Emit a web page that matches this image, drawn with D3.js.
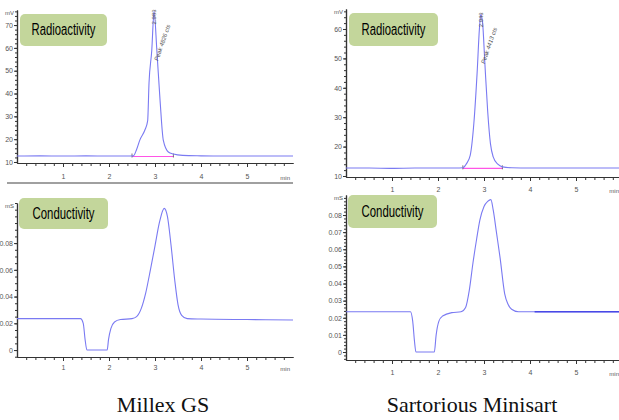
<!DOCTYPE html>
<html>
<head>
<meta charset="utf-8">
<script src="https://cdn.jsdelivr.net/npm/d3@7"></script>
<style>
body { margin: 0; background: #fff; }
svg { display: block; }
.axis path, .axis line { stroke: #333; }
.axis text { font-family: "Liberation Sans Narrow", "Liberation Sans", sans-serif; font-size: 7px; fill: #555; }
</style>
</head>
<body>
<div id="chart"></div>
<script>
// retention time (min) / signal
var radioTimeA = [0, 0.5, 1, 1.5, 2, 2.4, 2.53, 2.6, 2.67, 2.78, 2.84, 2.87, 2.93, 2.98, 3.04, 3.11, 3.18, 3.29, 3.4, 3.6, 4, 4.5, 5, 5.5, 6];
var radioValA  = [12.6, 12.7, 12.6, 12.7, 12.6, 12.6, 12.7, 15.5, 19.6, 24, 28, 44.6, 59, 76, 59, 37, 19.6, 14.4, 13.5, 12.9, 12.7, 12.6, 12.6, 12.6, 12.6];
var radioTimeB = [0, 0.5, 1, 1.5, 2, 2.4, 2.54, 2.62, 2.7, 2.78, 2.85, 2.9, 2.93, 2.97, 3.02, 3.08, 3.14, 3.2, 3.3, 3.4, 3.6, 4, 5, 6];
var radioValB  = [12.7, 12.7, 12.6, 12.7, 12.7, 12.7, 12.8, 14.2, 17, 28, 45, 60, 65, 62, 48, 32, 21, 16.5, 14, 13.1, 12.8, 12.7, 12.7, 12.7];
var condTimeA = [0, 0.5, 1, 1.38, 1.44, 1.48, 1.52, 1.96, 1.99, 2.04, 2.12, 2.25, 2.5, 2.6, 2.7, 2.8, 2.9, 3.0, 3.1, 3.2, 3.27, 3.35, 3.43, 3.5, 3.58, 3.7, 4, 5, 6];
var condValA  = [0.0235, 0.0235, 0.0235, 0.0235, 0.020, 0.008, 0, 0, 0.008, 0.016, 0.021, 0.0228, 0.0235, 0.025, 0.031, 0.043, 0.060, 0.078, 0.096, 0.106, 0.100, 0.078, 0.052, 0.034, 0.026, 0.0235, 0.0232, 0.0228, 0.0225];
var condTimeB = [0, 0.5, 1, 1.4, 1.45, 1.49, 1.52, 1.92, 1.96, 2.02, 2.1, 2.3, 2.5, 2.6, 2.68, 2.76, 2.84, 2.91, 3.0, 3.08, 3.15, 3.2, 3.27, 3.35, 3.45, 3.52, 3.6, 3.75, 4.1, 5, 6];
var condValB  = [0.0235, 0.0235, 0.0235, 0.0235, 0.018, 0.006, 0, 0, 0.01, 0.018, 0.021, 0.023, 0.0235, 0.026, 0.036, 0.052, 0.066, 0.077, 0.085, 0.088, 0.089, 0.083, 0.07, 0.055, 0.034, 0.028, 0.025, 0.0235, 0.0235, 0.0235, 0.0235];
// radioactivity peak integration limits (min) and baseline level (mV)
var integA = [2.5, 3.4], integLevelA = 12.4;
var integB = [2.54, 3.4], integLevelB = 12.6;
var radioTicks = [10, 20, 30, 40, 50, 60, 70];
var condTicksA = [0, 0.02, 0.04, 0.06, 0.08];
var condTicksB = [0, 0.01, 0.02, 0.03, 0.04, 0.05, 0.06, 0.07, 0.08];
var timeTicks = [1, 2, 3, 4, 5];
var peakLabels = ['2.983', '2.943'];
var peakNotes = ['Peak 4826 cts', 'Peak 4413 cts'];
var captions = ['Millex GS', 'Sartorious Minisart'];

var W = 619, H = 420;
var svg = d3.select('#chart').append('svg').attr('width', W).attr('height', H);

var condFmt = function(d) { return d === 0 ? '0' : d3.format('.2f')(d); };

var panels = [
	{ t: radioTimeA, v: radioValA, x0: 17, top: 10, bot: 163, dom: [9.56, 76.6], ticks: radioTicks, minor: 2, fmt: d3.format('d'), unit: 'mV', pad: 7, label: 'Radioactivity', box: [20, 14, 87, 32], integ: integA, integLevel: integLevelA, peak: 0 },
	{ t: condTimeA, v: condValA, x0: 17, top: 203, bot: 357, dom: [-0.0052, 0.11], ticks: condTicksA, minor: 0.005, fmt: condFmt, unit: 'mS', pad: 4, label: 'Conductivity', box: [19, 198, 89, 31] },
	{ t: radioTimeB, v: radioValB, x0: 346, top: 9, bot: 177, dom: [9.66, 66.8], ticks: radioTicks.slice(0, 6), minor: 2, fmt: d3.format('d'), unit: 'mV', pad: 6, label: 'Radioactivity', box: [349, 13, 89, 33], integ: integB, integLevel: integLevelB, peak: 1 },
	{ t: condTimeB, v: condValB, x0: 346, top: 195, bot: 360, dom: [-0.00467, 0.0917], ticks: condTicksB, minor: 0.002, fmt: condFmt, unit: 'mS', pad: 6, label: 'Conductivity', box: [348, 195, 89, 33], dark: 4.1 }
];

function range(a, b, s) {
	var out = [];
	for (var v = a; v <= b + 1e-9; v += s) out.push(+v.toFixed(4));
	return out;
}

panels.forEach(function(p) {
	var x = d3.scaleLinear().domain([0, 6]).range([p.x0, p.x0 + 276]);
	var y = d3.scaleLinear().domain(p.dom).range([p.bot, p.top]);
	var g = svg.append('g');

	// y axis, minor then major ticks
	g.append('g').attr('class', 'axis').attr('transform', 'translate(' + p.x0 + ',0)')
		.call(d3.axisLeft(y).tickValues(range(Math.ceil(p.dom[0] / p.minor) * p.minor, p.dom[1], p.minor)).tickSize(2).tickSizeOuter(0).tickFormat(''));
	g.append('g').attr('class', 'axis').attr('transform', 'translate(' + p.x0 + ',0)')
		.call(d3.axisLeft(y).tickValues(p.ticks).tickSize(3).tickPadding(1).tickSizeOuter(0).tickFormat(p.fmt));

	// x axis
	g.append('g').attr('class', 'axis').attr('transform', 'translate(0,' + p.bot + ')')
		.call(d3.axisBottom(x).tickValues(range(0.2, 5.8, 0.2)).tickSize(3).tickSizeOuter(0).tickFormat(''));
	g.append('g').attr('class', 'axis').attr('transform', 'translate(0,' + p.bot + ')')
		.call(d3.axisBottom(x).tickValues(timeTicks).tickSize(4).tickPadding(p.pad).tickSizeOuter(0).tickFormat(d3.format('d')));
	g.selectAll('.axis .domain').attr('stroke-width', 1.2);

	g.append('text').attr('x', x(6) - 3).attr('y', p.bot + p.pad + 10)
		.attr('text-anchor', 'end').attr('font-family', 'Liberation Sans Narrow, sans-serif')
		.attr('font-size', 6).attr('fill', '#555').text('min');
	g.append('text').attr('x', p.x0 - 3).attr('y', p.top + 5)
		.attr('text-anchor', 'end').attr('font-family', 'Liberation Sans Narrow, sans-serif')
		.attr('font-size', 6).attr('fill', '#555').text(p.unit);

	var pts = p.t.map(function(t, i) { return [t, p.v[i]]; });
	var line = d3.line().x(function(d) { return x(d[0]); }).y(function(d) { return y(d[1]); }).curve(d3.curveMonotoneX);

	// integration baseline under the peak
	if (p.integ) {
		g.append('line').attr('x1', x(p.integ[0])).attr('x2', x(p.integ[1]))
			.attr('y1', y(p.integLevel)).attr('y2', y(p.integLevel))
			.attr('stroke', '#ff55e6').attr('stroke-width', 1.2);
		p.integ.forEach(function(t) {
			g.append('line').attr('x1', x(t)).attr('x2', x(t))
				.attr('y1', y(p.integLevel) - 3).attr('y2', y(p.integLevel) + 1)
				.attr('stroke', '#444').attr('stroke-width', 0.7);
		});
	}

	g.append('path').datum(pts).attr('d', line)
		.attr('fill', 'none').attr('stroke', '#7a7af2').attr('stroke-width', 1.1);
	if (p.dark) {
		g.append('path').datum(pts.filter(function(d) { return d[0] >= p.dark; })).attr('d', line)
			.attr('fill', 'none').attr('stroke', '#4848e6').attr('stroke-width', 1.3);
	}

	// peak annotation
	if (p.peak !== undefined) {
		var i = d3.maxIndex(p.v);
		var px = x(p.t[i]), py = y(p.v[i]);
		g.append('text').attr('transform', 'translate(' + (px + 2) + ',' + (py - 2) + ') rotate(-90)')
			.attr('text-anchor', 'end').attr('font-family', 'Liberation Sans Narrow, sans-serif')
			.attr('font-size', 6).attr('fill', '#555').text(peakLabels[p.peak]);
		g.append('text').attr('transform', 'translate(' + (px + 4) + ',' + (py + 50) + ') rotate(-71)')
			.attr('font-family', 'Liberation Sans Narrow, sans-serif')
			.attr('font-size', 6).attr('font-style', 'italic').attr('fill', '#555').text(peakNotes[p.peak]);
	}

	// label box
	g.append('rect').attr('x', p.box[0]).attr('y', p.box[1]).attr('width', p.box[2]).attr('height', p.box[3])
		.attr('rx', 5).attr('fill', '#c3d69b');
	g.append('text').attr('x', p.box[0] + p.box[2] / 2).attr('y', p.box[1] + p.box[3] / 2 + 5)
		.attr('text-anchor', 'middle').attr('font-family', 'Liberation Sans Narrow, sans-serif')
		.attr('font-size', 16).attr('fill', '#000')
		.attr('textLength', p.label === 'Radioactivity' ? 64 : 62).attr('lengthAdjust', 'spacingAndGlyphs')
		.text(p.label);
});

// separator under the first chromatogram
svg.append('line').attr('x1', 7).attr('x2', 293).attr('y1', 183).attr('y2', 183)
	.attr('stroke', '#a0a0a0').attr('stroke-width', 2);

svg.selectAll('.caption').data(captions).enter().append('text')
	.attr('class', 'caption')
	.attr('x', function(d, i) { return i === 0 ? 163 : 472; })
	.attr('y', 412)
	.attr('text-anchor', 'middle')
	.attr('font-family', 'Liberation Serif, Times New Roman, serif')
	.attr('font-size', 22)
	.attr('fill', '#111')
	.text(function(d) { return d; });
</script>
</body>
</html>
